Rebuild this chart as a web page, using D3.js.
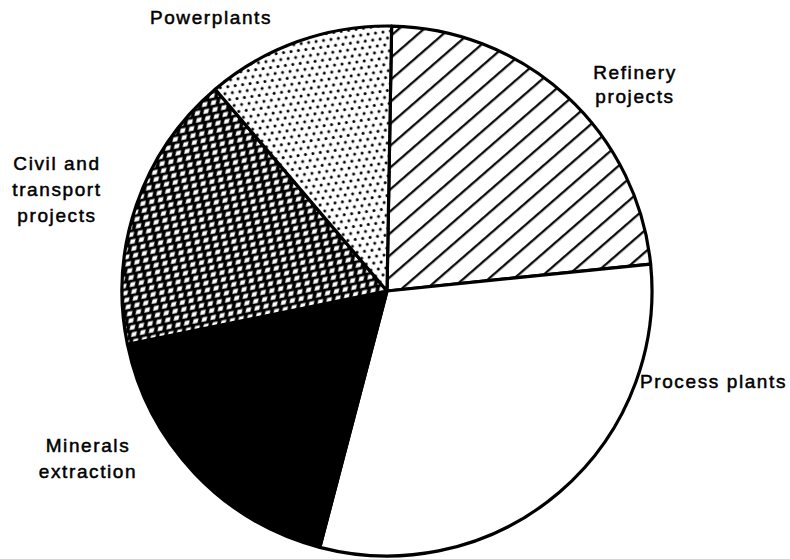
<!DOCTYPE html>
<html><head><meta charset="utf-8">
<script src="https://cdn.jsdelivr.net/npm/d3@7"></script>
<style>body{margin:0;background:#fff}svg{display:block}</style>
</head><body>
<script>
const categories = ["Refinery projects", "Process plants", "Minerals extraction", "Civil and transport projects", "Powerplants"];
const values = [23.1, 30.7, 17.7, 17.0, 11.5];
const fills = ["url(#hatch)", "#fff", "#000", "url(#cross)", "url(#dots)"];
const labelLines = [["Refinery", "projects"], ["Process plants"], ["Minerals", "extraction"], ["Civil and", "transport", "projects"], ["Powerplants"]];
const labelPos = [[635, 79, "middle", 24], [640, 388, "start", 25], [88, 452, "middle", 26], [57, 170, "middle", 26], [211, 24, "middle", 25]];

const W = 790, H = 559, cx = 387, cy = 291, R = 265;
const svg = d3.select("body").append("svg").attr("width", W).attr("height", H);
const defs = svg.append("defs");

const h = defs.append("pattern").attr("id", "hatch").attr("patternUnits", "userSpaceOnUse")
  .attr("width", 16.5).attr("height", 16.5).attr("patternTransform", "rotate(-41)");
h.append("rect").attr("width", 16.5).attr("height", 16.5).attr("fill", "#fff");
h.append("line").attr("x1", 0).attr("x2", 16.5).attr("y1", 8).attr("y2", 8).attr("stroke", "#000").attr("stroke-width", 2.2);

const c = defs.append("pattern").attr("id", "cross").attr("patternUnits", "userSpaceOnUse")
  .attr("width", 9).attr("height", 7).attr("patternTransform", "rotate(-12)");
c.append("rect").attr("width", 9).attr("height", 7).attr("fill", "#000");
c.append("polygon").attr("points", "1.0,5.8 6.0,5.8 8.0,1.6 3.0,1.6").attr("fill", "#fff");

const d = defs.append("pattern").attr("id", "dots").attr("patternUnits", "userSpaceOnUse")
  .attr("width", 7.5).attr("height", 13).attr("patternTransform", "rotate(-8)");
d.append("rect").attr("width", 7.5).attr("height", 13).attr("fill", "#fff");
d.append("circle").attr("cx", 2).attr("cy", 3).attr("r", 1.5).attr("fill", "#000");
d.append("circle").attr("cx", 5.75).attr("cy", 9.5).attr("r", 1.5).attr("fill", "#000");

const start = 1 * Math.PI / 180;
const pie = d3.pie().sort(null).startAngle(start).endAngle(start + 2 * Math.PI);
const arc = d3.arc().innerRadius(0).outerRadius(R);
const g = svg.append("g").attr("transform", `translate(${cx},${cy})`);
g.selectAll("path").data(pie(values)).join("path")
  .attr("d", arc).attr("fill", (d, i) => fills[i])
  .attr("stroke", "#000").attr("stroke-width", 3.2).attr("stroke-linejoin", "round");

const t = svg.append("g").attr("font-family", "'Liberation Sans', Arial, sans-serif")
  .attr("font-size", 19).attr("letter-spacing", 1.6)
  .attr("fill", "#000").attr("stroke", "#000").attr("stroke-width", 0.5);
categories.forEach((cat, i) => {
  const [x, y, anchor, lh] = labelPos[i];
  const txt = t.append("text").attr("x", x).attr("y", y).attr("text-anchor", anchor);
  labelLines[i].forEach((ln, j) => txt.append("tspan").attr("x", x).attr("dy", j === 0 ? 0 : lh).text(ln));
});
</script>
</body></html>
